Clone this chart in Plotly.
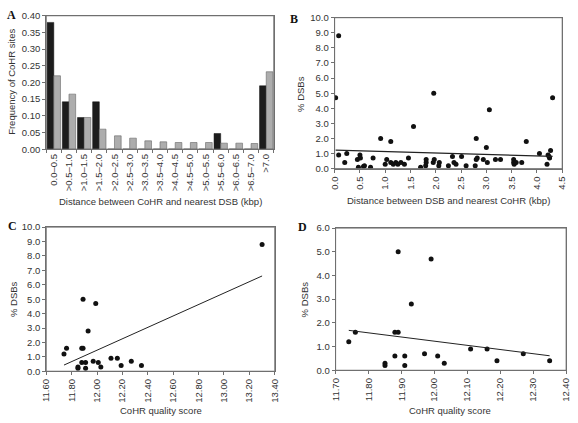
import numpy as np
import plotly.graph_objects as go

# ---------------- Data ----------------
bins_a = ["0.0–0.5", ">0.5–1.0", ">1.0–1.5", ">1.5–2.0", ">2.0–2.5", ">2.5–3.0", ">3.0–3.5",
          ">3.5–4.0", ">4.0–4.5", ">4.5–5.0", ">5.0–5.5", ">5.5–6.0", ">6.0–6.5", ">6.5–7.0", ">7.0"]
observed_a = [0.38, 0.142, 0.095, 0.142, 0, 0, 0, 0, 0, 0, 0, 0.047, 0, 0, 0.19]
random_a = [0.22, 0.165, 0.095, 0.06, 0.04, 0.033, 0.025, 0.022, 0.02, 0.02, 0.02, 0.018, 0.018, 0.017, 0.232]

dist_b = [0.02, 0.08, 0.08, 0.20, 0.24, 0.45, 0.47, 0.50, 0.51, 0.57, 0.59, 0.71, 0.76, 0.91, 1.00,
          1.03, 1.11, 1.11, 1.16, 1.21, 1.25, 1.31, 1.38, 1.46, 1.56, 1.70, 1.80, 1.81, 1.81, 1.96,
          1.95, 1.97, 2.06, 2.07, 2.25, 2.33, 2.36, 2.40, 2.51, 2.60, 2.78, 2.80, 2.80, 2.82, 2.94,
          3.00, 3.02, 3.06, 3.18, 3.28, 3.54, 3.54, 3.55, 3.59, 3.70, 3.79, 4.05, 4.20, 4.22, 4.24,
          4.25, 4.27, 4.31]
dsb_b = [4.7, 8.8, 0.9, 0.4, 1.0, 0.6, 0.1, 0.9, 0.7, 0.15, 0.2, 0.1, 0.7, 2.0, 0.3,
         0.6, 1.8, 0.4, 0.3, 0.4, 0.3, 0.4, 0.3, 0.7, 2.8, 0.1, 0.2, 0.4, 0.6, 5.0,
         0.4, 0.6, 0.2, 0.4, 0.2, 0.8, 0.4, 0.3, 0.8, 0.2, 0.2, 2.0, 0.6, 0.7, 0.6,
         1.4, 0.4, 3.9, 0.6, 0.6, 0.6, 0.4, 0.3, 0.4, 0.4, 1.8, 1.0, 0.3, 0.9, 0.8,
         0.7, 1.2, 4.7]

score_c = [11.74, 11.76, 11.85, 11.85, 11.88, 11.89, 11.89, 11.88, 11.91, 11.91, 11.93, 11.97,
           11.99, 12.01, 12.03, 12.11, 12.16, 12.19, 12.27, 12.35, 13.30]
dsb_c = [1.2, 1.6, 0.3, 0.2, 1.6, 1.6, 5.0, 0.6, 0.6, 0.2, 2.8, 0.7,
         4.7, 0.6, 0.3, 0.9, 0.9, 0.4, 0.7, 0.4, 8.8]

score_d = score_c[:-1]
dsb_d = dsb_c[:-1]

ticks_a_y = [0.00, 0.05, 0.10, 0.15, 0.20, 0.25, 0.30, 0.35, 0.40]
ticks_b_x = [0.0, 0.5, 1.0, 1.5, 2.0, 2.5, 3.0, 3.5, 4.0, 4.5]
ticks_pct10 = [0.0, 1.0, 2.0, 3.0, 4.0, 5.0, 6.0, 7.0, 8.0, 9.0, 10.0]
ticks_c_x = [11.60, 11.80, 12.00, 12.20, 12.40, 12.60, 12.80, 13.00, 13.20, 13.40]
ticks_d_x = [11.70, 11.80, 11.90, 12.00, 12.10, 12.20, 12.30, 12.40]
ticks_d_y = [0.0, 1.0, 2.0, 3.0, 4.0, 5.0, 6.0]

# ---------------- Styling ----------------
FONT = "Liberation Sans, Arial, sans-serif"
TXT = "#333333"
AX = "#707070"
W, H = 578, 423
EPS = 1e-4


def dom_x(a, b):
    return [a / W, b / W]


def dom_y(top, bottom):
    return [1 - bottom / H, 1 - top / H]


def tv(vals, fmt):
    return dict(tickmode="array", tickvals=vals, ticktext=[fmt.format(v) for v in vals])


fig = go.Figure()

# Panel A bars
fig.add_trace(go.Bar(x=bins_a, y=observed_a, marker=dict(color="#1c1c1c", line=dict(color="#111", width=0.5)),
                     xaxis="x", yaxis="y", showlegend=False))
fig.add_trace(go.Bar(x=bins_a, y=random_a, marker=dict(color="#adadad", line=dict(color="#666", width=0.6)),
                     xaxis="x", yaxis="y", showlegend=False))


def trend(xs, ys):
    k, b = np.polyfit(xs, ys, 1)
    xl = np.array([min(xs), max(xs)])
    return xl, k * xl + b


mk = dict(color="#111111", size=5)
# Panel B
fig.add_trace(go.Scatter(x=dist_b, y=dsb_b, mode="markers", marker=mk, xaxis="x2", yaxis="y2", showlegend=False))
xl, yl = trend(dist_b, dsb_b)
fig.add_trace(go.Scatter(x=xl, y=yl, mode="lines", line=dict(color="#222", width=1.3), xaxis="x2", yaxis="y2", showlegend=False))
# Panel C
fig.add_trace(go.Scatter(x=score_c, y=dsb_c, mode="markers", marker=mk, xaxis="x3", yaxis="y3", showlegend=False))
xl, yl = trend(score_c, dsb_c)
fig.add_trace(go.Scatter(x=xl, y=yl, mode="lines", line=dict(color="#222", width=1), xaxis="x3", yaxis="y3", showlegend=False))
# Panel D
fig.add_trace(go.Scatter(x=score_d, y=dsb_d, mode="markers", marker=mk, xaxis="x4", yaxis="y4", showlegend=False))
xl, yl = trend(score_d, dsb_d)
fig.add_trace(go.Scatter(x=xl, y=yl, mode="lines", line=dict(color="#222", width=1), xaxis="x4", yaxis="y4", showlegend=False))

tickfont = dict(family=FONT, size=9.5, color=TXT)
common = dict(showgrid=False, zeroline=False, showline=True, linecolor=AX, linewidth=1, mirror=True,
              ticks="outside", ticklen=3, tickcolor=AX, tickfont=tickfont)

fig.update_layout(
    width=W, height=H, margin=dict(l=0, r=0, t=0, b=0),
    paper_bgcolor="white", plot_bgcolor="white",
    barmode="group", bargap=0.12, bargroupgap=0,
    xaxis=dict(domain=dom_x(41, 273), anchor="y", tickangle=-90, tickson="boundaries", **common),
    yaxis=dict(domain=dom_y(10, 147), anchor="x", range=[0, 0.4 + EPS * 0.04], **tv(ticks_a_y, "{:.2f}"), **common),
    xaxis2=dict(domain=dom_x(335, 567), anchor="y2", range=[0, 4.5 + EPS], **tv(ticks_b_x, "{:.1f}"),
                tickangle=-90, **common),
    yaxis2=dict(domain=dom_y(12, 167), anchor="x2", range=[0, 10 + EPS], **tv(ticks_pct10, "{:.1f}"), **common),
    xaxis3=dict(domain=dom_x(41, 274), anchor="y3", range=[11.6, 13.4 + EPS], **tv(ticks_c_x, "{:.2f}"),
                tickangle=-90, **common),
    yaxis3=dict(domain=dom_y(227, 375), anchor="x3", range=[0, 10 + EPS], **tv(ticks_pct10, "{:.1f}"), **common),
    xaxis4=dict(domain=dom_x(336, 571), anchor="y4", range=[11.7, 12.4 + EPS], **tv(ticks_d_x, "{:.2f}"),
                tickangle=-90, **common),
    yaxis4=dict(domain=dom_y(228, 374), anchor="x4", range=[0, 6 + EPS], **tv(ticks_d_y, "{:.1f}"), **common),
)

# panel frames
for xa, ya in [("x", "y"), ("x2", "y2"), ("x3", "y3"), ("x4", "y4")]:
    fig.add_shape(type="rect", xref=f"{xa} domain", yref=f"{ya} domain", x0=0, x1=1, y0=0, y1=1,
                  line=dict(color=AX, width=1), fillcolor="rgba(0,0,0,0)", layer="above")

ann = []
tf = dict(family=FONT, size=9.5, color=TXT)
lf = dict(family="Liberation Serif, Times New Roman, serif", size=12, color="#111")


def txt(x, y, s, font, angle=0):
    ann.append(dict(x=x / W, y=1 - y / H, xref="paper", yref="paper", text=s, showarrow=False,
                    font=font, textangle=angle, xanchor="center", yanchor="middle"))


txt(158, 201, "Distance between CoHR and nearest DSB (kbp)", tf)
txt(6, 78, "Frequency of CoHR sites", tf, -90)
txt(451, 200, "Distance between DSB and nearest CoHR (kbp)", tf)
txt(300, 90, "% DSBs", tf, -90)
txt(158, 415, "CoHR quality score", tf)
txt(7, 301, "% DSBs", tf, -90)
txt(453, 415, "CoHR quality score", tf)
txt(304, 301, "% DSBs", tf, -90)
txt(6, 9, "<b>A</b>", lf)
txt(294, 13, "<b>B</b>", lf)
txt(7, 226, "<b>C</b>", lf)
txt(302, 227, "<b>D</b>", lf)
fig.update_layout(annotations=ann)

fig.write_html("out.html", config={"displayModeBar": False},
               post_script="document.body.style.margin='0';document.body.style.padding='0';"
                           "document.body.style.overflow='hidden';")
